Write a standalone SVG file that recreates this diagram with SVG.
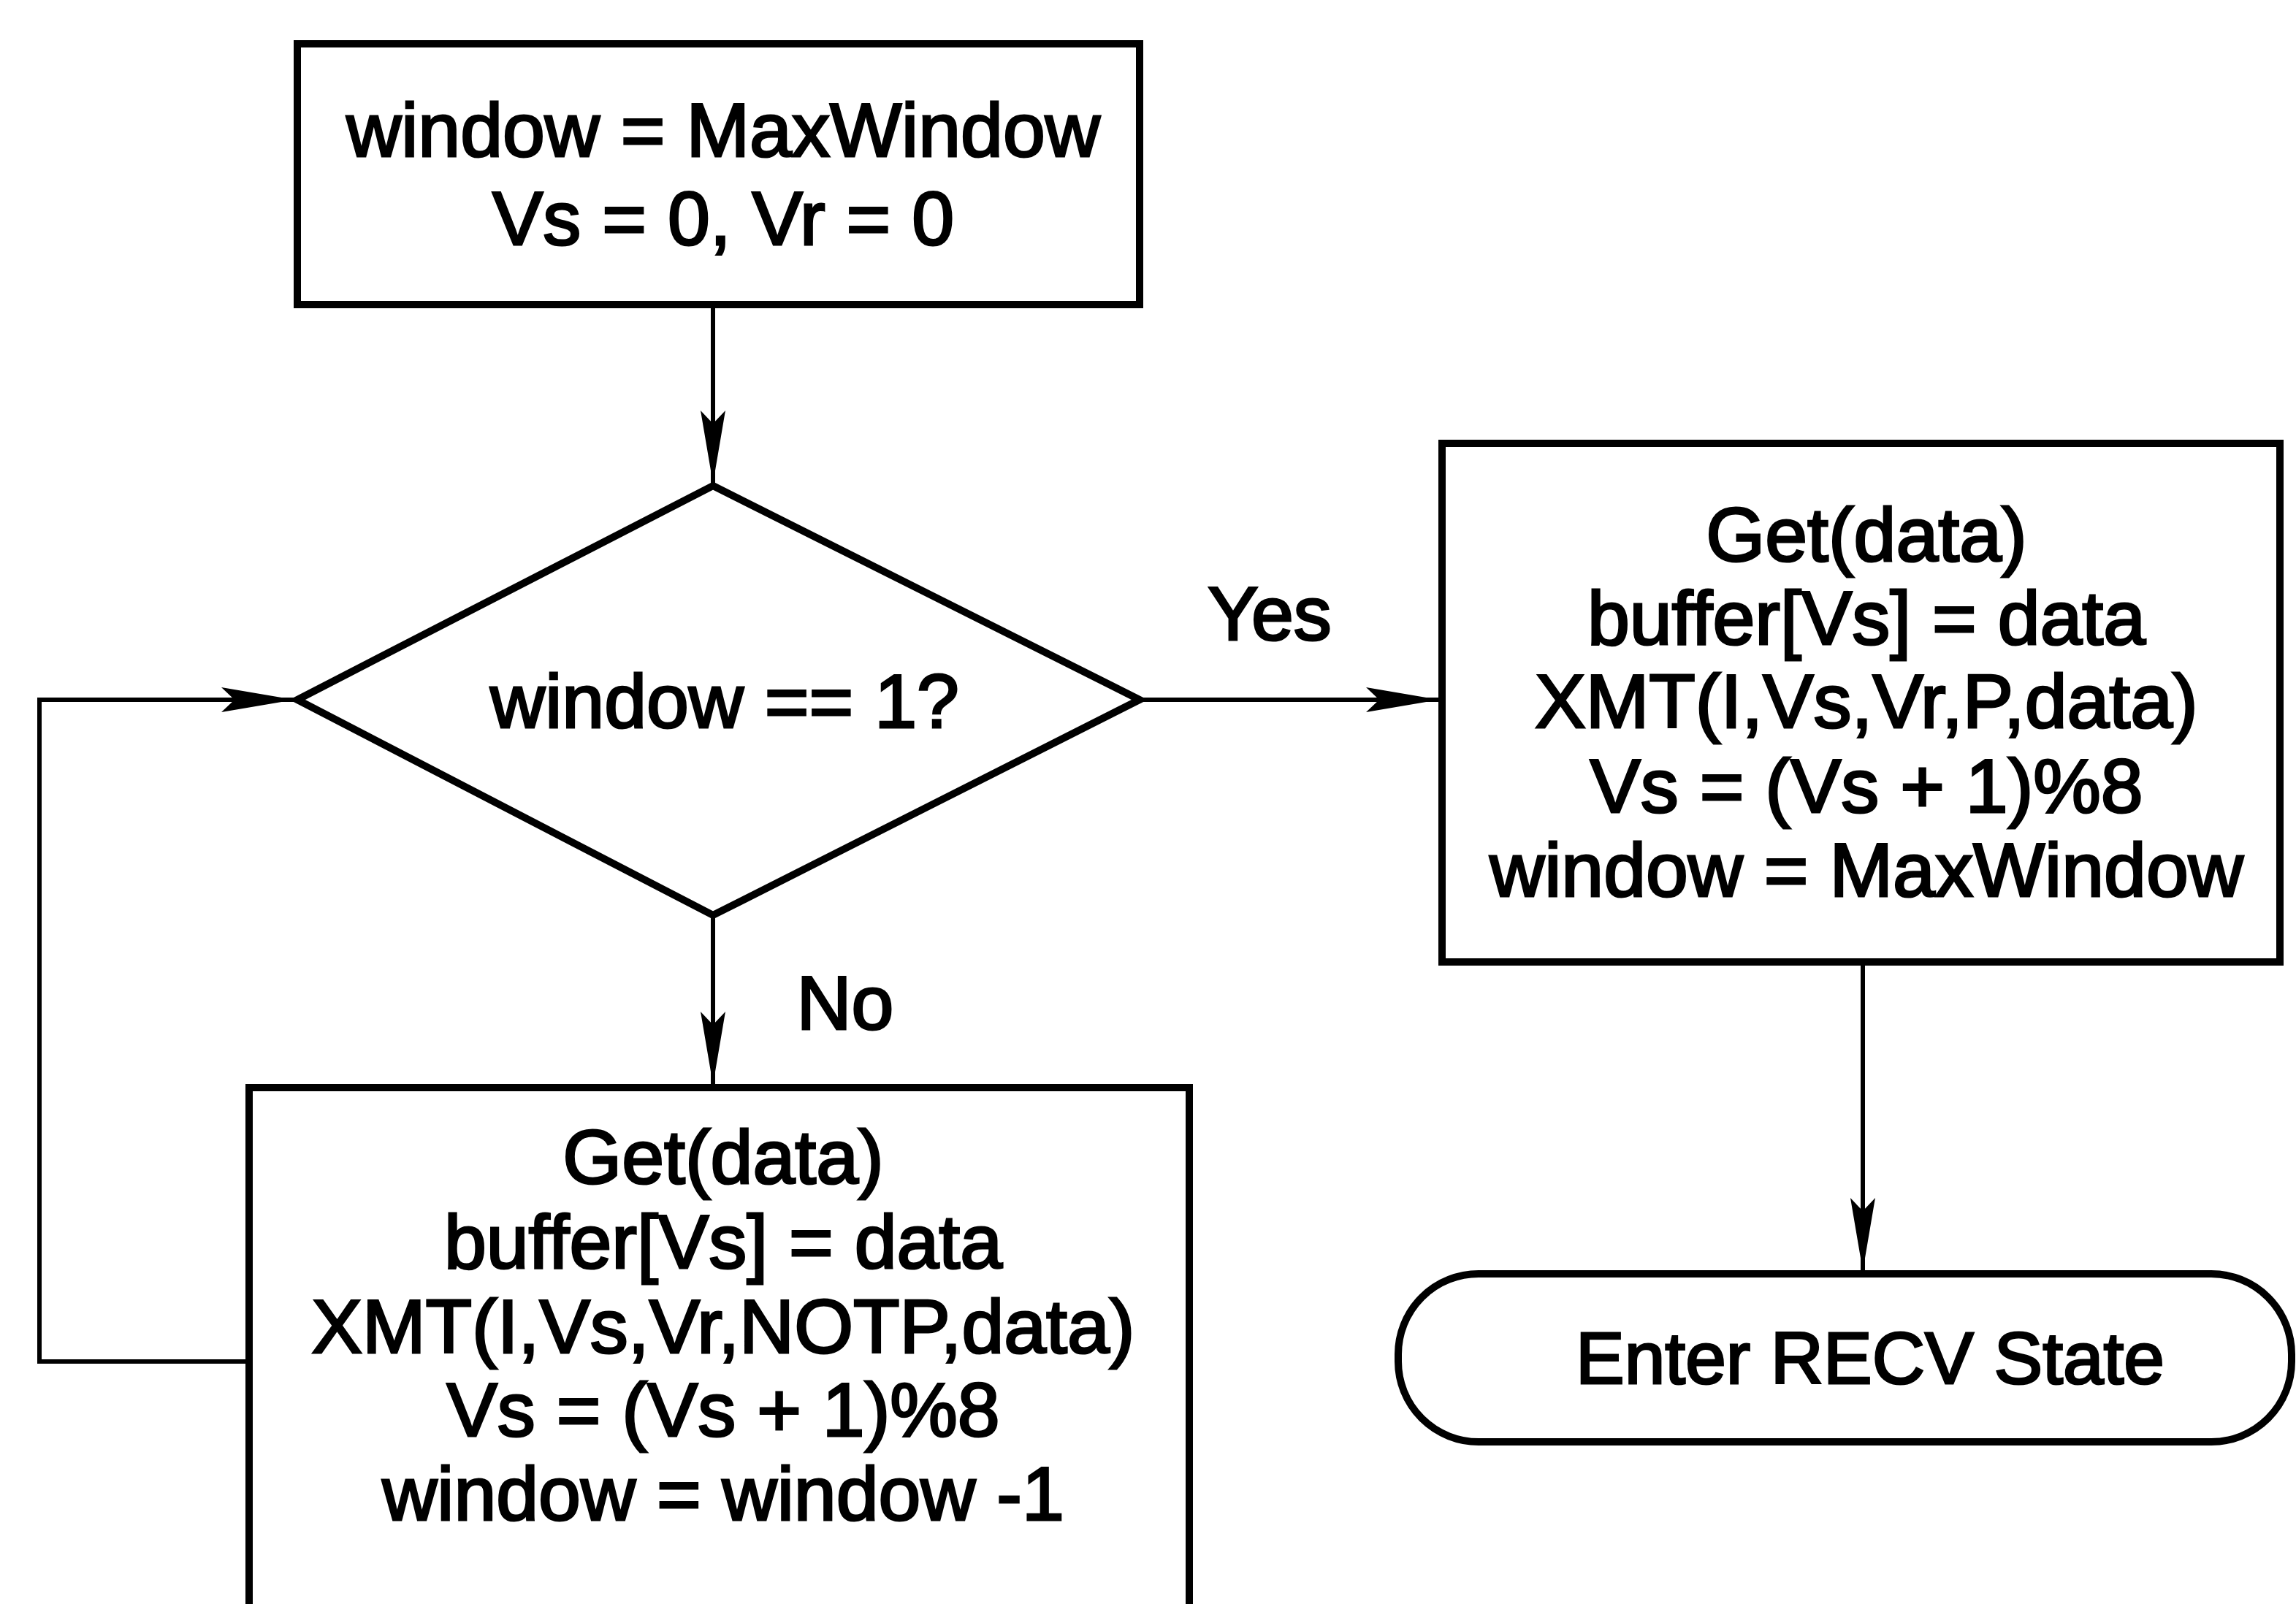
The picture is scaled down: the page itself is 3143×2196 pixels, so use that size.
<svg xmlns="http://www.w3.org/2000/svg" width="3143" height="2196" viewBox="0 0 3143 2196">
<style>
.box{fill:#fff;stroke:#000;stroke-width:10}
.conn{fill:none;stroke:#000;stroke-width:6}
text{font-family:"Liberation Sans",Arial,sans-serif;font-size:104px;fill:#000;stroke:#000;stroke-width:3;text-anchor:middle}
</style>
<defs>
<marker id="arr" markerUnits="userSpaceOnUse" markerWidth="110" markerHeight="44" viewBox="0 0 110 44" refX="106" refY="22" orient="auto">
<path d="M106,22 L6,5 L24,22 L6,39 Z" fill="#000"/>
</marker>
</defs>
<rect width="3143" height="2196" fill="#fff"/>
<g id="connectors">
<line class="conn" x1="976" y1="417" x2="976" y2="662" marker-end="url(#arr)"/>
<line class="conn" x1="1560" y1="958" x2="1970" y2="958" marker-end="url(#arr)"/>
<line class="conn" x1="976" y1="1253" x2="976" y2="1485" marker-end="url(#arr)"/>
<polyline class="conn" points="341,1864 54,1864 54,958 403,958" marker-end="url(#arr)"/>
<line class="conn" x1="2550" y1="1317" x2="2550" y2="1740" marker-end="url(#arr)"/>
<text x="1738" y="876">Yes</text>
<text x="1157" y="1409">No</text>
</g>
<g id="init">
<rect class="box" x="407" y="60" width="1153" height="357"/>
<text x="990" y="214">window = MaxWindow</text>
<text x="990" y="335">Vs = 0, Vr = 0</text>
</g>
<g id="decision">
<polygon class="box" points="976,665 1560,958 976,1253 407,958" />
<text x="992" y="996">window == 1?</text>
</g>
<g id="yesbox">
<rect class="box" x="1974" y="607" width="1147" height="710"/>
<text x="2555" y="768">Get(data)</text>
<text x="2555" y="882">buffer[Vs] = data</text>
<text x="2555" y="996">XMT(I,Vs,Vr,P,data)</text>
<text x="2555" y="1112">Vs = (Vs + 1)%8</text>
<text x="2555" y="1227">window = MaxWindow</text>
</g>
<g id="nobox">
<rect class="box" x="341" y="1489" width="1287" height="740"/>
<text x="990" y="1620">Get(data)</text>
<text x="990" y="1736">buffer[Vs] = data</text>
<text x="990" y="1852">XMT(I,Vs,Vr,NOTP,data)</text>
<text x="990" y="1966">Vs = (Vs + 1)%8</text>
<text x="990" y="2081">window = window -1</text>
</g>
<g id="terminal">
<rect class="box" x="1914" y="1744" width="1223" height="230" rx="110" ry="110"/>
<text x="2560" y="1894" style="font-size:100px">Enter RECV State</text>
</g>
</svg>
